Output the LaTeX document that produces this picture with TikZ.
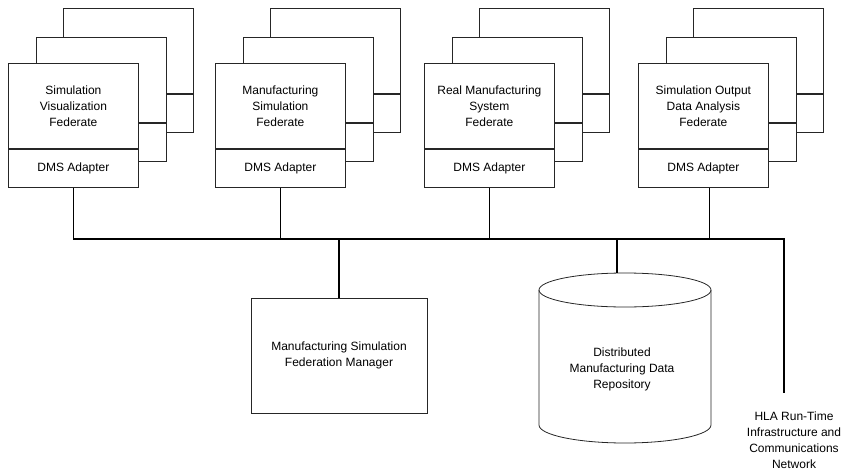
\documentclass[tikz,border=0pt]{standalone}
\usepackage{fontspec}
\setmainfont{Liberation Sans}
\usetikzlibrary{calc}
\tikzset{
  boxline/.style={draw=black!85, line width=0.8pt},
  upbox/.style={boxline, fill=white, minimum width=130pt, minimum height=85pt, inner sep=0pt, align=center, anchor=north west},
  lowbox/.style={boxline, fill=white, minimum width=130pt, minimum height=38pt, inner sep=0pt, align=center, anchor=north},
  conn/.style={draw=black, line width=1.4pt},
  lbl/.style={align=center, inner sep=0pt},
}
\newcommand\fedgroup[4]{%
  \node[upbox] (#1c) at ({#2+55},{#3-55}) {};
  \node[lowbox] (#1cl) at (#1c.south) {};
  \node[upbox] (#1b) at ({#2+28},{#3-26}) {};
  \node[lowbox] (#1bl) at (#1b.south) {};
  \node[upbox] (#1a) at (#2,#3) {#4};
  \node[lowbox] (#1al) at (#1a.south) {DMS Adapter};
}
\begin{document}
\begin{tikzpicture}[x=1pt, y=-1pt, font=\fontsize{12}{16}\selectfont]
\useasboundingbox (0,0) rectangle (846,474);
\fedgroup{g1}{8}{63}{Simulation\\Visualization\\Federate}
\fedgroup{g2}{215}{63}{Manufacturing\\Simulation\\Federate}
\fedgroup{g3}{424}{63}{Real Manufacturing\\System\\Federate}
\fedgroup{g4}{638}{63}{Simulation Output\\Data Analysis\\Federate}

% manager
\node[boxline, minimum width=176pt, minimum height=115pt, align=center] (mgr) at (339,355.5)
  {Manufacturing Simulation\\Federation Manager};

% repository cylinder
\draw[boxline] (625,290) ellipse [x radius=86pt, y radius=17pt];
\draw[boxline] (539,290) -- (539,425) arc[start angle=180, end angle=360, x radius=86pt, y radius=18pt] -- (711,290);
\node[lbl] (repo) at (622,369) {Distributed\\Manufacturing Data\\Repository};
\coordinate (repotop) at (617,273);

% HLA
\node[lbl] (hla) at (794,440) {HLA Run-Time\\Infrastructure and\\Communications\\Network};
\coordinate (busR) at (784,239);
\coordinate (hlaend) at (784,393);

% connectors
\draw[conn] (g1al.south) -- (g1al.south |- busR) -- (busR) -- (hlaend);
\draw[conn] (g2al.south) -- (g2al.south |- busR);
\draw[conn] (g3al.south) -- (g3al.south |- busR);
\draw[conn] ($(g4al.south)+(6,0)$) -- ($(g4al.south |- busR)+(6,0)$);
\draw[conn] (busR -| mgr.north) -- (mgr.north);
\draw[conn] (busR -| repotop) -- (repotop);
\end{tikzpicture}
\end{document}
